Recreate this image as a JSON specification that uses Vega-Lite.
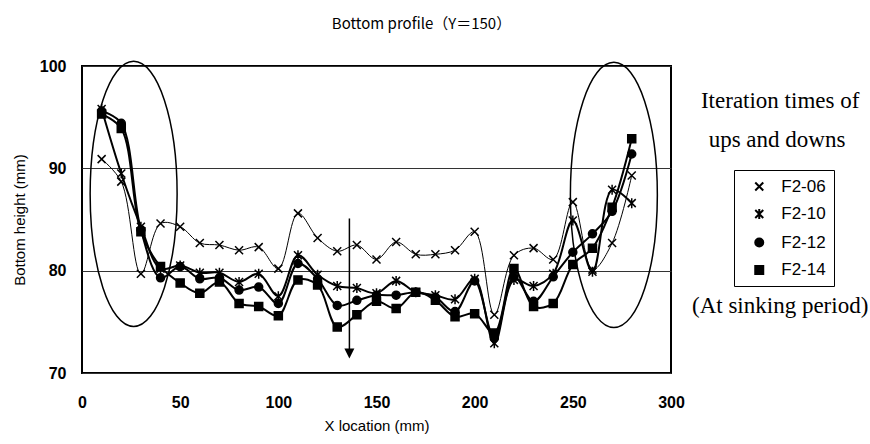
{
  "$schema": "https://vega.github.io/schema/vega-lite/v6.json",
  "width": 589,
  "height": 307,
  "autosize": {"type": "none"},
  "padding": {"left": 82, "top": 66, "right": 199, "bottom": 71},
  "background": "white",
  "config": {
    "view": {"stroke": "black", "strokeWidth": 2},
    "font": "Liberation Sans"
  },
  "title": {
    "text": "Bottom profile（Y＝150）",
    "font": "Noto Sans CJK JP",
    "fontSize": 15,
    "fontWeight": "normal",
    "color": "black",
    "anchor": "middle",
    "dx": 45,
    "offset": 26
  },
  "datasets": {
    "profile": [
      {"x": 10, "y": 90.9, "series": "F2-06"}, {"x": 20, "y": 88.7, "series": "F2-06"}, {"x": 30, "y": 79.7, "series": "F2-06"}, {"x": 40, "y": 84.6, "series": "F2-06"},
      {"x": 50, "y": 84.3, "series": "F2-06"}, {"x": 60, "y": 82.7, "series": "F2-06"}, {"x": 70, "y": 82.5, "series": "F2-06"}, {"x": 80, "y": 82.0, "series": "F2-06"},
      {"x": 90, "y": 82.3, "series": "F2-06"}, {"x": 100, "y": 80.2, "series": "F2-06"}, {"x": 110, "y": 85.6, "series": "F2-06"}, {"x": 120, "y": 83.2, "series": "F2-06"},
      {"x": 130, "y": 81.9, "series": "F2-06"}, {"x": 140, "y": 82.5, "series": "F2-06"}, {"x": 150, "y": 81.1, "series": "F2-06"}, {"x": 160, "y": 82.8, "series": "F2-06"},
      {"x": 170, "y": 81.6, "series": "F2-06"}, {"x": 180, "y": 81.6, "series": "F2-06"}, {"x": 190, "y": 82.0, "series": "F2-06"}, {"x": 200, "y": 83.8, "series": "F2-06"},
      {"x": 210, "y": 75.7, "series": "F2-06"}, {"x": 220, "y": 81.5, "series": "F2-06"}, {"x": 230, "y": 82.2, "series": "F2-06"}, {"x": 240, "y": 81.1, "series": "F2-06"},
      {"x": 250, "y": 86.7, "series": "F2-06"}, {"x": 260, "y": 80.1, "series": "F2-06"}, {"x": 270, "y": 82.7, "series": "F2-06"}, {"x": 280, "y": 89.3, "series": "F2-06"},

      {"x": 10, "y": 95.8, "series": "F2-10"}, {"x": 20, "y": 89.5, "series": "F2-10"}, {"x": 30, "y": 84.3, "series": "F2-10"}, {"x": 40, "y": 80.2, "series": "F2-10"},
      {"x": 50, "y": 80.5, "series": "F2-10"}, {"x": 60, "y": 79.8, "series": "F2-10"}, {"x": 70, "y": 79.8, "series": "F2-10"}, {"x": 80, "y": 78.9, "series": "F2-10"},
      {"x": 90, "y": 79.7, "series": "F2-10"}, {"x": 100, "y": 77.5, "series": "F2-10"}, {"x": 110, "y": 81.5, "series": "F2-10"}, {"x": 120, "y": 79.6, "series": "F2-10"},
      {"x": 130, "y": 78.5, "series": "F2-10"}, {"x": 140, "y": 78.3, "series": "F2-10"}, {"x": 150, "y": 77.8, "series": "F2-10"}, {"x": 160, "y": 79.0, "series": "F2-10"},
      {"x": 170, "y": 77.9, "series": "F2-10"}, {"x": 180, "y": 77.6, "series": "F2-10"}, {"x": 190, "y": 77.2, "series": "F2-10"}, {"x": 200, "y": 79.2, "series": "F2-10"},
      {"x": 210, "y": 72.9, "series": "F2-10"}, {"x": 220, "y": 79.1, "series": "F2-10"}, {"x": 230, "y": 78.5, "series": "F2-10"}, {"x": 240, "y": 79.7, "series": "F2-10"},
      {"x": 250, "y": 84.9, "series": "F2-10"}, {"x": 260, "y": 79.9, "series": "F2-10"}, {"x": 270, "y": 87.9, "series": "F2-10"}, {"x": 280, "y": 86.6, "series": "F2-10"},

      {"x": 10, "y": 95.6, "series": "F2-12"}, {"x": 20, "y": 94.4, "series": "F2-12"}, {"x": 30, "y": 84.0, "series": "F2-12"}, {"x": 40, "y": 79.3, "series": "F2-12"},
      {"x": 50, "y": 80.4, "series": "F2-12"}, {"x": 60, "y": 79.2, "series": "F2-12"}, {"x": 70, "y": 79.3, "series": "F2-12"}, {"x": 80, "y": 78.1, "series": "F2-12"},
      {"x": 90, "y": 78.4, "series": "F2-12"}, {"x": 100, "y": 76.8, "series": "F2-12"}, {"x": 110, "y": 80.7, "series": "F2-12"}, {"x": 120, "y": 79.2, "series": "F2-12"},
      {"x": 130, "y": 76.6, "series": "F2-12"}, {"x": 140, "y": 77.1, "series": "F2-12"}, {"x": 150, "y": 77.6, "series": "F2-12"}, {"x": 160, "y": 77.6, "series": "F2-12"},
      {"x": 170, "y": 77.9, "series": "F2-12"}, {"x": 180, "y": 77.4, "series": "F2-12"}, {"x": 190, "y": 76.0, "series": "F2-12"}, {"x": 200, "y": 79.0, "series": "F2-12"},
      {"x": 210, "y": 73.4, "series": "F2-12"}, {"x": 220, "y": 79.4, "series": "F2-12"}, {"x": 230, "y": 77.0, "series": "F2-12"}, {"x": 240, "y": 79.4, "series": "F2-12"},
      {"x": 250, "y": 81.8, "series": "F2-12"}, {"x": 260, "y": 83.6, "series": "F2-12"}, {"x": 270, "y": 85.8, "series": "F2-12"}, {"x": 280, "y": 91.4, "series": "F2-12"},

      {"x": 10, "y": 95.3, "series": "F2-14"}, {"x": 20, "y": 93.9, "series": "F2-14"}, {"x": 30, "y": 83.8, "series": "F2-14"}, {"x": 40, "y": 80.4, "series": "F2-14"},
      {"x": 50, "y": 78.8, "series": "F2-14"}, {"x": 60, "y": 77.8, "series": "F2-14"}, {"x": 70, "y": 78.9, "series": "F2-14"}, {"x": 80, "y": 76.8, "series": "F2-14"},
      {"x": 90, "y": 76.5, "series": "F2-14"}, {"x": 100, "y": 75.6, "series": "F2-14"}, {"x": 110, "y": 79.1, "series": "F2-14"}, {"x": 120, "y": 78.6, "series": "F2-14"},
      {"x": 130, "y": 74.5, "series": "F2-14"}, {"x": 140, "y": 75.7, "series": "F2-14"}, {"x": 150, "y": 77.0, "series": "F2-14"}, {"x": 160, "y": 76.3, "series": "F2-14"},
      {"x": 170, "y": 77.9, "series": "F2-14"}, {"x": 180, "y": 77.1, "series": "F2-14"}, {"x": 190, "y": 75.5, "series": "F2-14"}, {"x": 200, "y": 75.8, "series": "F2-14"},
      {"x": 210, "y": 73.9, "series": "F2-14"}, {"x": 220, "y": 80.2, "series": "F2-14"}, {"x": 230, "y": 76.5, "series": "F2-14"}, {"x": 240, "y": 76.8, "series": "F2-14"},
      {"x": 250, "y": 80.6, "series": "F2-14"}, {"x": 260, "y": 82.2, "series": "F2-14"}, {"x": 270, "y": 86.2, "series": "F2-14"}, {"x": 280, "y": 92.9, "series": "F2-14"}
    ],
    "ellipses": [
      {"x": 26.3, "y": 87.5},
      {"x": 270.9, "y": 87.4}
    ],
    "arrow": [
      {"x": 136.2, "y": 85.1, "y2": 71.9}
    ],
    "notes": [
      {"x": 355.6, "y": 96.6, "text": "Iteration times of"},
      {"x": 354.0, "y": 92.8, "text": "ups and downs"},
      {"x": 355.6, "y": 76.5, "text": "(At sinking period)"}
    ]
  },
  "encoding": {
    "x": {
      "field": "x",
      "type": "quantitative",
      "scale": {"domain": [0, 300], "nice": false, "zero": false},
      "axis": {
        "values": [0, 50, 100, 150, 200, 250, 300],
        "title": "X location (mm)",
        "grid": false,
        "domain": false,
        "ticks": false,
        "labelFlush": false,
        "labelFont": "Liberation Sans",
        "labelFontSize": 16,
        "labelFontWeight": "bold",
        "labelColor": "black",
        "labelPadding": 21,
        "titleFont": "Liberation Sans",
        "titleFontSize": 15,
        "titleFontWeight": "normal",
        "titleColor": "black",
        "titlePadding": 8
      }
    },
    "y": {
      "field": "y",
      "type": "quantitative",
      "scale": {"domain": [70, 100], "nice": false, "zero": false},
      "axis": {
        "values": [70, 80, 90, 100],
        "title": "Bottom height (mm)",
        "grid": true,
        "gridColor": "#333333",
        "gridWidth": 1,
        "domain": false,
        "ticks": false,
        "labelFlush": false,
        "labelFont": "Liberation Sans",
        "labelFontSize": 16,
        "labelFontWeight": "bold",
        "labelColor": "black",
        "labelPadding": 16,
        "titleFont": "Liberation Sans",
        "titleFontSize": 15,
        "titleFontWeight": "normal",
        "titleColor": "black",
        "titlePadding": 12
      }
    }
  },
  "layer": [
    {
      "data": {"name": "ellipses"},
      "mark": {
        "type": "point",
        "shape": "M0,-1A0.328,1 0 1,1 0,1A0.328,1 0 1,1 0,-1Z",
        "size": 70300,
        "filled": false,
        "stroke": "black",
        "strokeWidth": 1.5,
        "opacity": 1
      }
    },
    {
      "data": {"name": "profile"},
      "transform": [{"filter": "datum.series === 'F2-06'"}],
      "mark": {"type": "line", "interpolate": "catmull-rom", "color": "black", "strokeWidth": 1},
      "encoding": {
        "detail": {"field": "series", "type": "nominal"}
      }
    },
    {
      "data": {"name": "profile"},
      "transform": [{"filter": "datum.series !== 'F2-06'"}],
      "mark": {"type": "line", "interpolate": "catmull-rom", "color": "black", "strokeWidth": 2},
      "encoding": {
        "detail": {"field": "series", "type": "nominal"}
      }
    },
    {
      "data": {"name": "profile"},
      "mark": {"type": "point", "filled": true, "fill": "black", "stroke": "black", "strokeWidth": 1.5, "size": 64, "opacity": 1},
      "encoding": {
        "shape": {
          "field": "series",
          "type": "nominal",
          "scale": {
            "domain": ["F2-06", "F2-10", "F2-12", "F2-14"],
            "range": [
              "M-1,-1L1,1M-1,1L1,-1",
              "M-1,-1L1,1M-1,1L1,-1M0,-1.25L0,1.25",
              "M1,0A1,1 0 1,1 -1,0A1,1 0 1,1 1,0Z",
              "M-1,-1H1V1H-1Z"
            ]
          },
          "legend": {
            "orient": "none",
            "legendX": 652,
            "legendY": 104,
            "title": null,
            "strokeColor": "black",
            "fillColor": "white",
            "padding": 8,
            "labelFont": "Liberation Sans",
            "labelFontSize": 17,
            "labelColor": "black",
            "rowPadding": 9.5,
            "symbolSize": 64,
            "symbolStrokeWidth": 2,
            "symbolOffset": 8.75,
            "labelOffset": 13.5
          }
        }
      }
    },
    {
      "data": {"name": "arrow"},
      "mark": {"type": "rule", "color": "black", "strokeWidth": 1.5},
      "encoding": {
        "y2": {"field": "y2"}
      }
    },
    {
      "data": {"name": "arrow"},
      "mark": {"type": "point", "shape": "M-1,-1L1,-1L0,1Z", "size": 100, "filled": true, "color": "black", "opacity": 1},
      "encoding": {
        "y": {"field": "y2", "type": "quantitative"}
      }
    },
    {
      "data": {"name": "notes"},
      "mark": {"type": "text", "font": "Liberation Serif", "fontSize": 23, "align": "center", "baseline": "middle", "color": "black"},
      "encoding": {
        "text": {"field": "text", "type": "nominal"}
      }
    }
  ]
}
